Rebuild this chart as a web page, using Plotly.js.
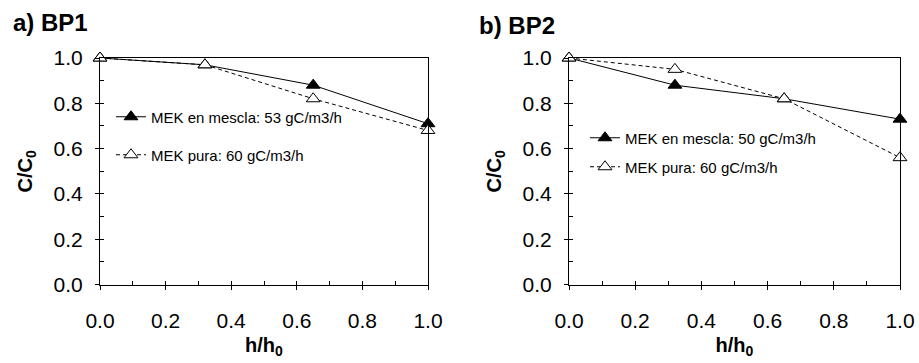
<!DOCTYPE html>
<html>
<head>
<meta charset="utf-8">
<script src="https://cdn.plot.ly/plotly-3.0.1.min.js"></script>
<style>html,body{margin:0;padding:0;background:#fff;}#chart{width:919px;height:363px;}</style>
</head>
<body>
<div id="chart"></div>
<script>
// Data
const hRatio = [0, 0.32, 0.65, 1.0];
const bp1Mescla = [1.0, 0.97, 0.88, 0.71];
const bp1Pura = [1.0, 0.97, 0.82, 0.68];
const bp2Mescla = [1.0, 0.88, 0.82, 0.73];
const bp2Pura = [1.0, 0.95, 0.82, 0.56];
const nameBp1Mescla = 'MEK en mescla: 53 gC/m3/h';
const nameBp1Pura = 'MEK pura: 60 gC/m3/h';
const nameBp2Mescla = 'MEK en mescla: 50 gC/m3/h';
const nameBp2Pura = 'MEK pura: 60 gC/m3/h';
const panelTitles = ['a) BP1', 'b) BP2'];
const xTitle = 'h/h<sub>0</sub>';
const yTitle = 'C/C<sub>0</sub>';

const FONT = 'Liberation Sans, Arial, sans-serif';

function mescla(x, y, name, xa, ya, lg) {
  return {x: x, y: y, name: name, xaxis: xa, yaxis: ya, legend: lg, type: 'scatter', mode: 'lines+markers',
    line: {color: '#000', width: 1},
    marker: {symbol: 'triangle-up', size: 12, color: '#000', line: {color: '#000', width: 1}},
    cliponaxis: false};
}
function pura(x, y, name, xa, ya, lg) {
  return {x: x, y: y, name: name, xaxis: xa, yaxis: ya, legend: lg, type: 'scatter', mode: 'lines+markers',
    line: {color: '#000', width: 1, dash: '4px,3px'},
    marker: {symbol: 'triangle-up', size: 12, color: '#fff', line: {color: '#000', width: 1}},
    cliponaxis: false};
}

const traces = [
  mescla(hRatio, bp1Mescla, nameBp1Mescla, 'x', 'y', 'legend'),
  pura(hRatio, bp1Pura, nameBp1Pura, 'x', 'y', 'legend2'),
  mescla(hRatio, bp2Mescla, nameBp2Mescla, 'x2', 'y2', 'legend3'),
  pura(hRatio, bp2Pura, nameBp2Pura, 'x2', 'y2', 'legend4'),
  // invisible traces to activate overlay axes (inside ticks)
  {x: [], y: [], xaxis: 'x3', yaxis: 'y3', showlegend: false, hoverinfo: 'skip'},
  {x: [], y: [], xaxis: 'x4', yaxis: 'y4', showlegend: false, hoverinfo: 'skip'}
];

const tickFont = {family: FONT, size: 21, color: '#000'};
const titleFont = {family: FONT, size: 20, color: '#000', weight: 'bold'};

function xMain(dom, anchor) {
  return {domain: dom, anchor: anchor, range: [0, 1], dtick: 0.2, tick0: 0, tickformat: '.1f',
    ticks: 'outside', ticklen: 4, tickwidth: 1, tickcolor: '#000',
    showline: true, linecolor: '#000', linewidth: 1, mirror: true,
    showgrid: false, zeroline: false, tickfont: tickFont, ticklabelstandoff: 13,
    title: {text: xTitle, font: titleFont, standoff: 7}};
}
function yMain(dom, anchor) {
  return {domain: dom, anchor: anchor, range: [0, 1], dtick: 0.2, tick0: 0, tickformat: '.1f',
    ticks: 'outside', ticklen: 4, tickwidth: 1, tickcolor: '#000',
    showline: true, linecolor: '#000', linewidth: 1, mirror: true,
    showgrid: false, zeroline: false, tickfont: tickFont, ticklabelstandoff: 8,
    title: {text: yTitle, font: titleFont, standoff: 15}};
}
function xOver(over, anchor) {
  return {overlaying: over, matches: over, anchor: anchor, range: [0, 1], dtick: 0.1, tick0: 0,
    ticks: 'inside', ticklen: 4, tickwidth: 1, tickcolor: '#000', showticklabels: false,
    showline: false, showgrid: false, zeroline: false};
}
function yOver(over, anchor) {
  return {overlaying: over, matches: over, anchor: anchor, range: [0, 1], dtick: 0.1, tick0: 0,
    ticks: 'inside', ticklen: 4, tickwidth: 1, tickcolor: '#000', showticklabels: false,
    showline: false, showgrid: false, zeroline: false};
}

const xd1 = [100 / 919, 428 / 919];
const xd2 = [569 / 919, 900 / 919];
const yd = [(363 - 284.5) / 363, (363 - 58) / 363];

const legBase = {bgcolor: 'rgba(0,0,0,0)', borderwidth: 0, font: {family: FONT, size: 15, color: '#000'},
  xanchor: 'left', yanchor: 'middle', itemclick: false};

const layout = {
  width: 919, height: 363,
  margin: {l: 0, r: 0, t: 0, b: 0},
  paper_bgcolor: '#fff', plot_bgcolor: 'rgba(0,0,0,0)',
  font: {family: FONT, color: '#000'},
  showlegend: true,
  xaxis: xMain(xd1, 'y'),
  yaxis: yMain(yd, 'x'),
  xaxis2: xMain(xd2, 'y2'),
  yaxis2: yMain(yd, 'x2'),
  xaxis3: xOver('x', 'y'),
  yaxis3: yOver('y', 'x'),
  xaxis4: xOver('x2', 'y2'),
  yaxis4: yOver('y2', 'x2'),
  legend: Object.assign({}, legBase, {x: 111 / 919, y: 1 - 117 / 363}),
  legend2: Object.assign({}, legBase, {x: 111 / 919, y: 1 - 155 / 363}),
  legend3: Object.assign({}, legBase, {x: 585 / 919, y: 1 - 138 / 363}),
  legend4: Object.assign({}, legBase, {x: 585 / 919, y: 1 - 167 / 363}),
  annotations: [
    {text: panelTitles[0], xref: 'paper', yref: 'paper', x: 11 / 919, y: 1 - 23 / 363,
      xanchor: 'left', yanchor: 'middle', showarrow: false, font: {family: FONT, size: 24, color: '#000', weight: 'bold'}},
    {text: panelTitles[1], xref: 'paper', yref: 'paper', x: 477 / 919, y: 1 - 25 / 363,
      xanchor: 'left', yanchor: 'middle', showarrow: false, font: {family: FONT, size: 24, color: '#000', weight: 'bold'}}
  ]
};

Plotly.newPlot('chart', traces, layout, {staticPlot: true, displayModeBar: false});
</script>
</body>
</html>
